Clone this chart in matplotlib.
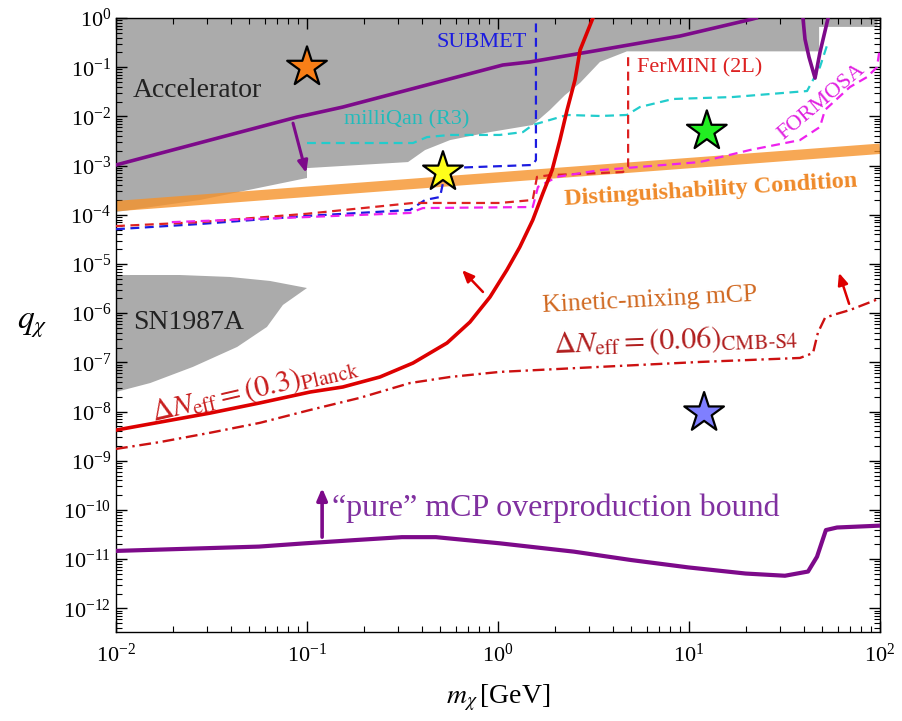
import matplotlib
matplotlib.use("Agg")
import matplotlib.pyplot as plt
import numpy as np
from matplotlib.ticker import LogLocator, NullFormatter

plt.rcParams["font.family"] = ["Liberation Serif", "DejaVu Serif"]
plt.rcParams["mathtext.fontset"] = "stix"

# ---- data (mass in GeV, coupling q) ----
acc_m = [0.01, 0.0275, 0.1, 0.1, 0.338, 0.415, 0.561, 0.908, 1.52, 1.87, 2.24, 2.69,
         3.42, 4.73, 48.0, 48.0, 97.0, 97.0, 0.01]
acc_q = [1.14e-4, 2.0e-4, 5.6e-4, 8.9e-4, 1.18e-3, 2.07e-3, 3.3e-3, 4.8e-3, 6.7e-3,
         1.35e-2, 2.7e-2, 4.8e-2, 0.128, 0.21, 0.21, 0.66, 0.66, 1.0, 1.0]

sn_m = [0.01, 0.0216, 0.0395, 0.064, 0.1, 0.0748, 0.0617, 0.0431, 0.0253, 0.0151, 0.01]
sn_q = [5.97e-6, 5.97e-6, 5.45e-6, 4.52e-6, 3.25e-6, 1.47e-6, 5.25e-7, 2.06e-7, 8.1e-8,
        3.8e-8, 2.5e-8]

km_m = [0.01, 0.0887, 0.1, 0.154, 1.06, 1.47, 3.42, 8.97, 21.4, 22.5]
km_q = [1.03e-3, 9.7e-3, 1.07e-2, 1.55e-2, 0.111, 0.128, 0.224, 0.43, 0.95, 1.0]

vdip_m = [39.5, 40.5, 42.5, 45.7, 48.5, 53.5]
vdip_q = [1.0, 0.37, 0.16, 0.06, 0.2, 1.0]

pure_m = [0.01, 0.056, 0.098, 0.181, 0.314, 0.473, 1.02, 2.5, 4.97, 9.9, 19.8, 26.1,
          31.8, 42.0, 46.8, 52.1, 59.6, 100]
pure_q = [1.47e-11, 1.8e-11, 2.1e-11, 2.45e-11, 2.8e-11, 2.8e-11, 2.1e-11, 1.42e-11,
          9.6e-12, 6.8e-12, 5.1e-12, 4.8e-12, 4.6e-12, 5.6e-12, 1.12e-11, 3.9e-11,
          4.4e-11, 4.8e-11]

planck_m = [0.01, 0.017, 0.031, 0.0567, 0.104, 0.154, 0.241, 0.359, 0.541, 0.713, 0.908,
            1.114, 1.30, 1.52, 1.72, 1.92, 2.11, 2.30, 2.53, 2.69, 3.14]
planck_q = [4.2e-9, 6.1e-9, 9.3e-9, 1.5e-8, 2.5e-8, 3.16e-8, 5.05e-8, 9.7e-8, 2.48e-7,
            6.6e-7, 2.13e-6, 7.6e-6, 2.2e-5, 7.8e-5, 2.77e-4, 8.1e-4, 3.3e-3, 1.35e-2,
            5.5e-2, 0.224, 1.0]

cmb_m = [0.01, 0.017, 0.031, 0.0567, 0.104, 0.189, 0.346, 0.561, 1.02, 3.42, 11.4, 38.1,
         44.6, 47.3, 51.5, 56.8, 69.6, 100]
cmb_q = [1.74e-9, 2.4e-9, 3.7e-9, 5.9e-9, 1.08e-8, 1.9e-8, 3.8e-8, 5.05e-8, 6.4e-8,
         8.1e-8, 1.02e-7, 1.23e-7, 1.55e-7, 4.0e-7, 8.0e-7, 9.2e-7, 1.16e-6, 2.0e-6]

dist_m = [0.01, 100]
dist_q = [1.5e-4, 2.2e-3]

submet_m = [0.01, 0.0275, 0.1, 0.346, 0.415, 0.497, 0.515, 0.535, 1.52, 1.58, 1.58]
submet_q = [5.1e-5, 6.5e-5, 9.5e-5, 1.25e-4, 2.0e-4, 2.3e-4, 4.4e-4, 8.9e-4, 1.03e-3,
            1.3e-3, 1.0]

milliqan_m = [0.1, 0.359, 0.425, 0.561, 1.02, 1.35, 1.52, 2.30, 3.42, 4.73, 5.53, 8.24,
              17.0, 41.5, 44.6, 48.5, 53.5]
milliqan_q = [2.88e-3, 2.88e-3, 3.8e-3, 4.2e-3, 4.2e-3, 4.8e-3, 6.7e-3, 1.07e-2, 1.02e-2,
              1.07e-2, 1.55e-2, 2.26e-2, 2.48e-2, 3.28e-2, 5.5e-2, 0.101, 0.325]

fermini_m = [0.01, 0.0275, 0.1, 0.359, 1.02, 1.52, 1.6, 1.87, 4.51, 4.8, 4.8]
fermini_q = [5.9e-5, 7.1e-5, 1.05e-4, 1.74e-4, 1.74e-4, 2.0e-4, 5.9e-4, 6.4e-4, 7.4e-4,
             9.4e-4, 0.204]

formosa_m = [0.0196, 0.1, 0.346, 0.404, 1.52, 1.62, 2.04, 3.42, 11.4, 20.8, 38.1, 48.5,
             51.5, 69.6, 85.5, 96.4, 100]
formosa_q = [7.1e-5, 9.0e-5, 1.09e-4, 1.37e-4, 1.44e-4, 3.7e-4, 5.9e-4, 8.1e-4, 1.18e-3,
             2.07e-3, 3.3e-3, 6.1e-3, 1.35e-2, 3.96e-2, 6.3e-2, 0.1, 0.257]

star_m = [0.1, 0.515, 12.4, 12.0]
star_q = [0.1, 7.4e-4, 5.0e-3, 9.4e-9]
star_colors = ["#F97F17", "#FFFF1A", "#22EE22", "#7F7FFF"]

# ---- figure ----
fig = plt.figure(figsize=(9.02, 7.21), dpi=100)
ax = fig.add_axes((0.1286, 0.1234, 0.8470, 0.8516))
ax.set_xscale("log")
ax.set_yscale("log")
ax.set_xlim(1e-2, 1e2)
ax.set_ylim(3.3e-13, 1.0)

gray = "#ABABAB"
ax.fill(acc_m, acc_q, color=gray, lw=0, zorder=1)
ax.fill(sn_m, sn_q, color=gray, lw=0, zorder=1)

ax.plot(dist_m, dist_q, color="#F6922A", alpha=0.8, lw=7.5, solid_capstyle="butt", zorder=2)

dash = (0, (4, 2.5))
ax.plot(submet_m, submet_q, color="#1C1CE0", lw=1.6, ls=dash, zorder=3)
ax.plot(milliqan_m, milliqan_q, color="#22CCCC", lw=1.6, ls=dash, zorder=3)
ax.plot(fermini_m, fermini_q, color="#DD2222", lw=1.6, ls=dash, zorder=3)
ax.plot(formosa_m, formosa_q, color="#EE22EE", lw=1.6, ls=dash, zorder=3)

purple = "#7D0A8A"
ax.plot(km_m, km_q, color=purple, lw=2.6, zorder=4)
ax.plot(vdip_m, vdip_q, color=purple, lw=2.6, zorder=4)
ax.plot(pure_m, pure_q, color=purple, lw=3.0, zorder=4)

ax.plot(planck_m, planck_q, color="#DD0000", lw=2.6, zorder=4)
ax.plot(cmb_m, cmb_q, color="#CC1111", lw=1.7, ls=(0, (5, 2, 1, 2)), zorder=4)

ax.scatter(star_m, star_q, marker="*", s=900, c=star_colors, edgecolors="black",
           linewidths=1.6, zorder=6)


def arrow(tail, head, color, lw):
    ax.annotate("", xy=head, xytext=tail,
                arrowprops=dict(arrowstyle="-|>,head_length=0.7,head_width=0.3",
                                color=color, lw=lw, shrinkA=0, shrinkB=0), zorder=5)


arrow((0.0845, 7.3e-3), (0.099, 7.1e-4), purple, 2.2)
arrow((0.12, 2.8e-11), (0.12, 2.8e-10), purple, 2.6)
arrow((0.834, 2.7e-6), (0.649, 7.5e-6), "#DD0000", 1.8)
arrow((68.9, 1.55e-6), (61.0, 6.6e-6), "#DD0000", 1.8)

# labels
ax.text(0.0123, 0.0344, "Accelerator", fontsize=20, color="#222222", ha="left", va="center")
ax.text(0.0123, 6.6e-7, "SN1987A", fontsize=20, color="#222222", ha="left", va="center")
ax.text(0.824, 0.325, "SUBMET", fontsize=16, color="#1C1CE0", ha="center", va="center")
ax.text(0.334, 8.4e-3, "milliQan (R3)", fontsize=16, color="#22BBBB", ha="center", va="center")
ax.text(11.3, 0.096, "FerMINI (2L)", fontsize=16, color="#DD2222", ha="center", va="center")
ax.text(49.7, 1.96e-2, "FORMOSA", fontsize=16, color="#E020E0", ha="center", va="center",
        rotation=40)
ax.text(13.0, 3.1e-4, "Distinguishability Condition", fontsize=17.5, fontweight="bold",
        color="#EF8A2A", ha="center", va="center", rotation=3.6)
ax.text(6.25, 1.86e-6, "Kinetic-mixing mCP", fontsize=18.5, color="#D06820",
        ha="center", va="center", rotation=3)
ax.text(8.55, 2.85e-7, r"$\Delta N_{\rm eff} = (0.06)_{\rm CMB\text{-}S4}$", fontsize=21.5,
        color="#B01E1E", ha="center", va="center", rotation=2)
ax.text(0.0534, 2.75e-8, r"$\Delta N_{\rm eff} = (0.3)_{\rm Planck}$", fontsize=21.5,
        color="#C81E1E", ha="center", va="center", rotation=13)
ax.text(0.135, 1.1e-10, "\u201cpure\u201d mCP overproduction bound", fontsize=23,
        color="#8030A0", ha="left", va="center")

ax.set_xlabel(r"$m_\chi\,$[GeV]", fontsize=20, labelpad=12)
ax.set_ylabel(r"$q_\chi$", fontsize=24, rotation=0, labelpad=22, va="center")

# ticks
ax.xaxis.set_major_locator(LogLocator(base=10, numticks=20))
ax.yaxis.set_major_locator(LogLocator(base=10, numticks=20))
ax.xaxis.set_minor_locator(LogLocator(base=10, subs=np.arange(2, 10), numticks=20))
ax.yaxis.set_minor_locator(LogLocator(base=10, subs=np.arange(2, 10), numticks=20))
ax.xaxis.set_minor_formatter(NullFormatter())
ax.yaxis.set_minor_formatter(NullFormatter())
ax.tick_params(which="both", direction="in", top=True, right=True, labelsize=16)
ax.tick_params(which="major", length=8, width=1)
ax.tick_params(which="minor", length=4, width=0.8)
ax.tick_params(axis="x", pad=8)
for s in ax.spines.values():
    s.set_linewidth(1.0)

fig.savefig("out.png", dpi=100)
